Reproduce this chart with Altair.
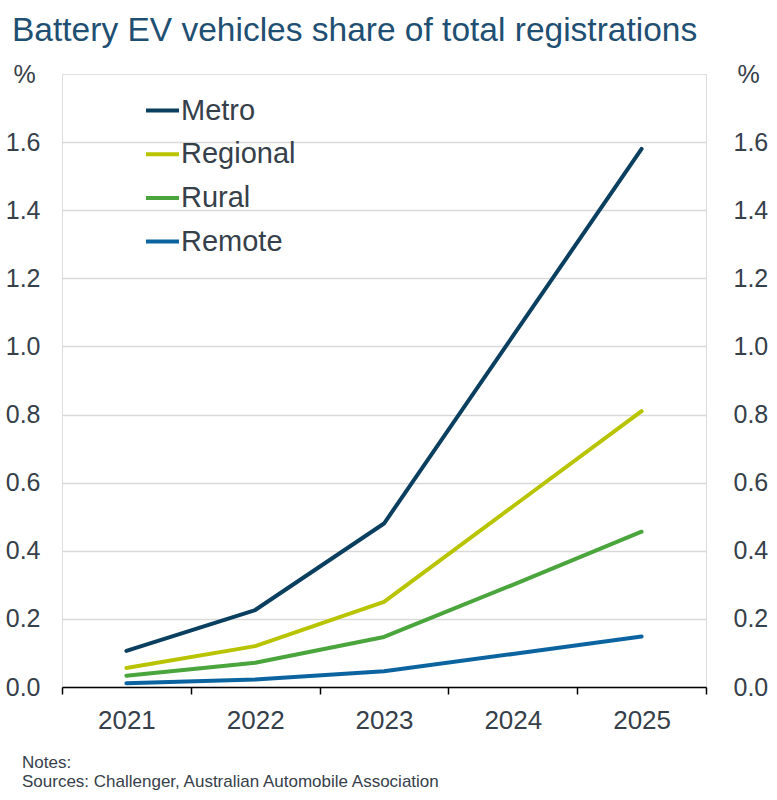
import altair as alt
import pandas as pd

years = ["2021", "2022", "2023", "2024", "2025"]
series = ["Metro", "Regional", "Rural", "Remote"]
metro = [0.106, 0.226, 0.48, 1.03, 1.58]
regional = [0.056, 0.12, 0.25, 0.53, 0.81]
rural = [0.033, 0.071, 0.147, 0.30, 0.456]
remote = [0.011, 0.022, 0.046, 0.097, 0.148]
colors = ["#0b3f5f", "#b8c400", "#4aa63c", "#0b64a0"]
y_ticks = [0.0, 0.2, 0.4, 0.6, 0.8, 1.0, 1.2, 1.4, 1.6]
notes_text = ["Notes:", "Sources: Challenger, Australian Automobile Association"]

rows = []
for name, vals in zip(series, [metro, regional, rural, remote]):
    for yr, v in zip(years, vals):
        rows.append({"year": yr, "series": name, "value": v})
df = pd.DataFrame(rows)

FONT = "Liberation Sans"
TXT = "#36404a"
W, H = 644, 613

xenc = alt.X(
    "year:O",
    bandPosition=0.5,
    scale=alt.Scale(type="band", paddingInner=0, paddingOuter=0, domain=years),
    axis=alt.Axis(
        title=None, labelAngle=0, labelFontSize=26, labelFont=FONT, labelColor=TXT,
        labelPadding=13, tickBand="extent", tickSize=7, tickColor="black", tickWidth=1.5,
        domainColor="black", domainWidth=1.5, grid=False,
    ),
)

yscale = alt.Scale(domain=[0, 1.8], nice=False)

lines = alt.Chart(df).mark_line(strokeWidth=4, strokeCap="round", strokeJoin="round").encode(
    x=xenc,
    y=alt.Y(
        "value:Q", scale=yscale,
        axis=alt.Axis(
            orient="left", values=y_ticks, format=".1f", labelFontSize=25, labelFont=FONT,
            labelColor=TXT, labelPadding=22, ticks=False, domain=False,
            grid=True, gridColor="#d9d9d9", gridWidth=1.5,
            title="%", titleAngle=0, titleX=-49, titleY=8, titleAlign="left",
            titleBaseline="alphabetic", titleFontSize=25, titleFont=FONT,
            titleColor=TXT, titleFontWeight="normal",
        ),
    ),
    color=alt.Color(
        "series:N", sort=series,
        scale=alt.Scale(domain=series, range=colors),
        legend=alt.Legend(
            title=None, orient="none", legendX=82, legendY=18, symbolType="stroke",
            symbolSize=1089, symbolStrokeWidth=4, labelFontSize=29, labelFont=FONT,
            labelColor=TXT, labelOffset=0, rowPadding=9.7, padding=0,
        ),
    ),
    detail="series:N",
)

right = alt.Chart(df).mark_line(opacity=0).encode(
    x=xenc,
    y=alt.Y(
        "value:Q", scale=yscale,
        axis=alt.Axis(
            orient="right", values=y_ticks, format=".1f", labelFontSize=25, labelFont=FONT,
            labelColor=TXT, labelPadding=27, ticks=False, domain=False, grid=False,
            title="%", titleAngle=0, titleX=31, titleY=8, titleAlign="left",
            titleBaseline="alphabetic", titleFontSize=25, titleFont=FONT,
            titleColor=TXT, titleFontWeight="normal",
        ),
    ),
    detail="series:N",
)

notes = pd.DataFrame({"t": notes_text})
n1 = alt.Chart(notes.iloc[[0]]).mark_text(
    align="left", baseline="alphabetic", fontSize=17, font=FONT, color=TXT
).encode(text="t:N", x=alt.value(-40), y=alt.value(H + 81))
n2 = alt.Chart(notes.iloc[[1]]).mark_text(
    align="left", baseline="alphabetic", fontSize=17, font=FONT, color=TXT
).encode(text="t:N", x=alt.value(-40), y=alt.value(H + 100))

chart = alt.layer(lines, right, n1, n2).resolve_scale(y="shared").resolve_axis(y="independent").properties(
    width=W, height=H,
    autosize=alt.AutoSizeParams(type="none"),
    padding={"left": 62, "top": 74, "right": 71, "bottom": 113},
    title=alt.TitleParams(
        "Battery EV vehicles share of total registrations", anchor="start", frame="group",
        dx=-50, offset=14, fontSize=33.5, font=FONT, color="#1f4f72", fontWeight="normal",
    ),
).configure_view(stroke="black", strokeWidth=1.5).configure(background="white")

chart.save("out.html", embed_options={"renderer": "svg", "actions": False})
